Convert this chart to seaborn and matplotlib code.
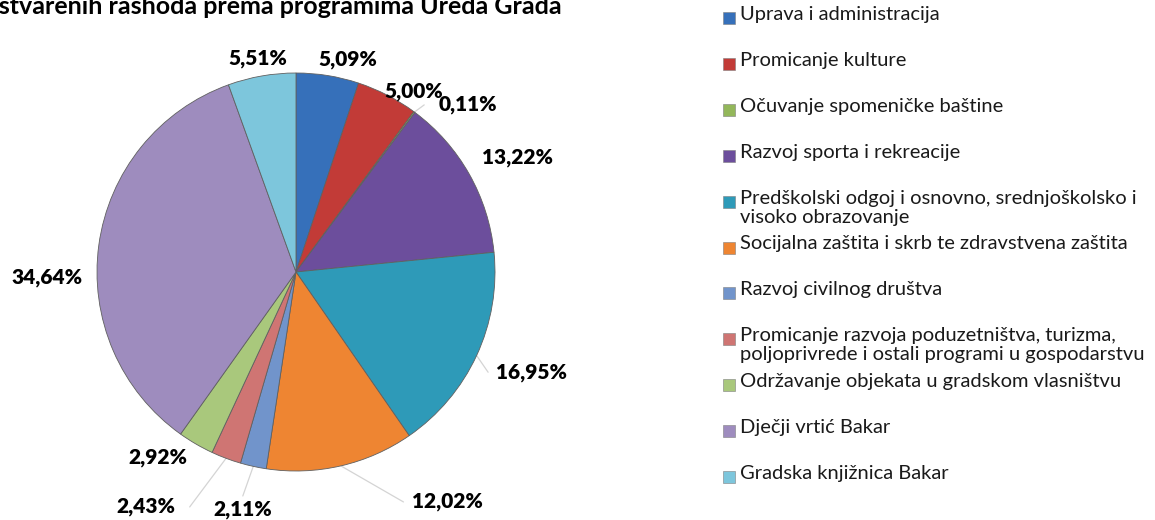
import matplotlib
matplotlib.use("Agg")

import matplotlib.pyplot as plt
import numpy as np
import seaborn as sns
from matplotlib.patches import Rectangle

# ── Data ──────────────────────────────────────────────────────────────────────
programs = [
    "Uprava i administracija",
    "Promicanje kulture",
    "Očuvanje spomeničke baštine",
    "Razvoj sporta i rekreacije",
    "Predškolski odgoj i osnovno, srednjoškolsko i\nvisoko obrazovanje",
    "Socijalna zaštita i skrb te zdravstvena zaštita",
    "Razvoj civilnog društva",
    "Promicanje razvoja poduzetništva, turizma,\npoljoprivrede i ostali programi u gospodarstvu",
    "Održavanje objekata u gradskom vlasništvu",
    "Dječji vrtić Bakar",
    "Gradska knjižnica Bakar",
]
shares = [5.09, 5.00, 0.11, 13.22, 16.95, 12.02, 2.11, 2.43, 2.92, 34.64, 5.51]
share_labels = ["5,09%", "5,00%", "0,11%", "13,22%", "16,95%", "12,02%",
                "2,11%", "2,43%", "2,92%", "34,64%", "5,51%"]
colors = ["#3670BA", "#C23B37", "#93B75A", "#6C4E9C", "#2E9AB8", "#EE8532",
          "#7194CB", "#CF7573", "#A9C87C", "#9E8CBE", "#7DC6DC"]

# label placement: distance (pie radii) and angle shift from the wedge middle
label_radius = [1.097, 1.082, 1.205, 1.256, 1.288, 1.383, 1.225, 1.401, 1.164, 1.251, 1.092]
label_shift = [-4.6, -5.9, -9.3, -2.1, 1.8, 20.3, -0.2, -12.0, -6.4, 9.0, 0.2]
has_leader = [False, False, True, False, True, True, True, True, False, False, False]

TITLE = "Struktura ostvarenih rashoda prema programima Ureda Grada"

# ── Figure ────────────────────────────────────────────────────────────────────
sns.set_theme(style="white")
plt.rcParams["font.family"] = ["Lato", "DejaVu Sans"]

W, H = 1155, 520
CX, CY, R = 296, 272, 199  # pie centre / radius in pixels

fig = plt.figure(figsize=(W / 100, H / 100), dpi=100)
fig.patch.set_facecolor("white")
ax = fig.add_axes([0, 0, 1, 1])

wedges, _ = ax.pie(
    shares, colors=colors, startangle=90, counterclock=False,
    wedgeprops=dict(edgecolor="#606060", linewidth=0.6),
)
ax.set_xlim(-CX / R, (W - CX) / R)
ax.set_ylim(-(H - CY) / R, CY / R)
ax.set_aspect("auto")
ax.axis("off")

# percentage labels + leader lines
for w, lab, r, shift, lead in zip(wedges, share_labels, label_radius, label_shift, has_leader):
    mid = np.deg2rad((w.theta1 + w.theta2) / 2)
    ang = mid + np.deg2rad(shift)
    lx, ly = r * np.cos(ang), r * np.sin(ang)
    ax.text(lx, ly, lab, ha="center", va="center", fontsize=15,
            fontweight="heavy", color="black")
    if lead:
        ex, ey = np.cos(mid), np.sin(mid)
        if abs(np.cos(ang)) < 0.3:
            tx, ty = lx, ly + 0.07
        else:
            tx, ty = lx - np.sign(np.cos(ang)) * 0.22, ly
        ax.plot([ex, tx], [ey, ty], color="#d4d4d4", lw=0.9, zorder=0)

# title (cut at the left edge as in the source)
fig.text(562 / W, 1 - 14 / H, TITLE, ha="right", va="baseline",
         fontsize=18, fontweight="bold", color="black")

# legend drawn as a column of entries
y0, step = 18, 45.9
for i, (name, c) in enumerate(zip(programs, colors)):
    yc = y0 + i * step
    fig.add_artist(Rectangle((723 / W, 1 - (yc + 6) / H), 12 / W, 12 / H,
                             transform=fig.transFigure, facecolor=c,
                             edgecolor="#808080", linewidth=0.4))
    fig.text(740 / W, 1 - (yc - 12) / H, name, ha="left", va="top",
             fontsize=14.5, color="#1a1a1a", linespacing=1.15)

fig.savefig("out.png", dpi=100, facecolor="white")
